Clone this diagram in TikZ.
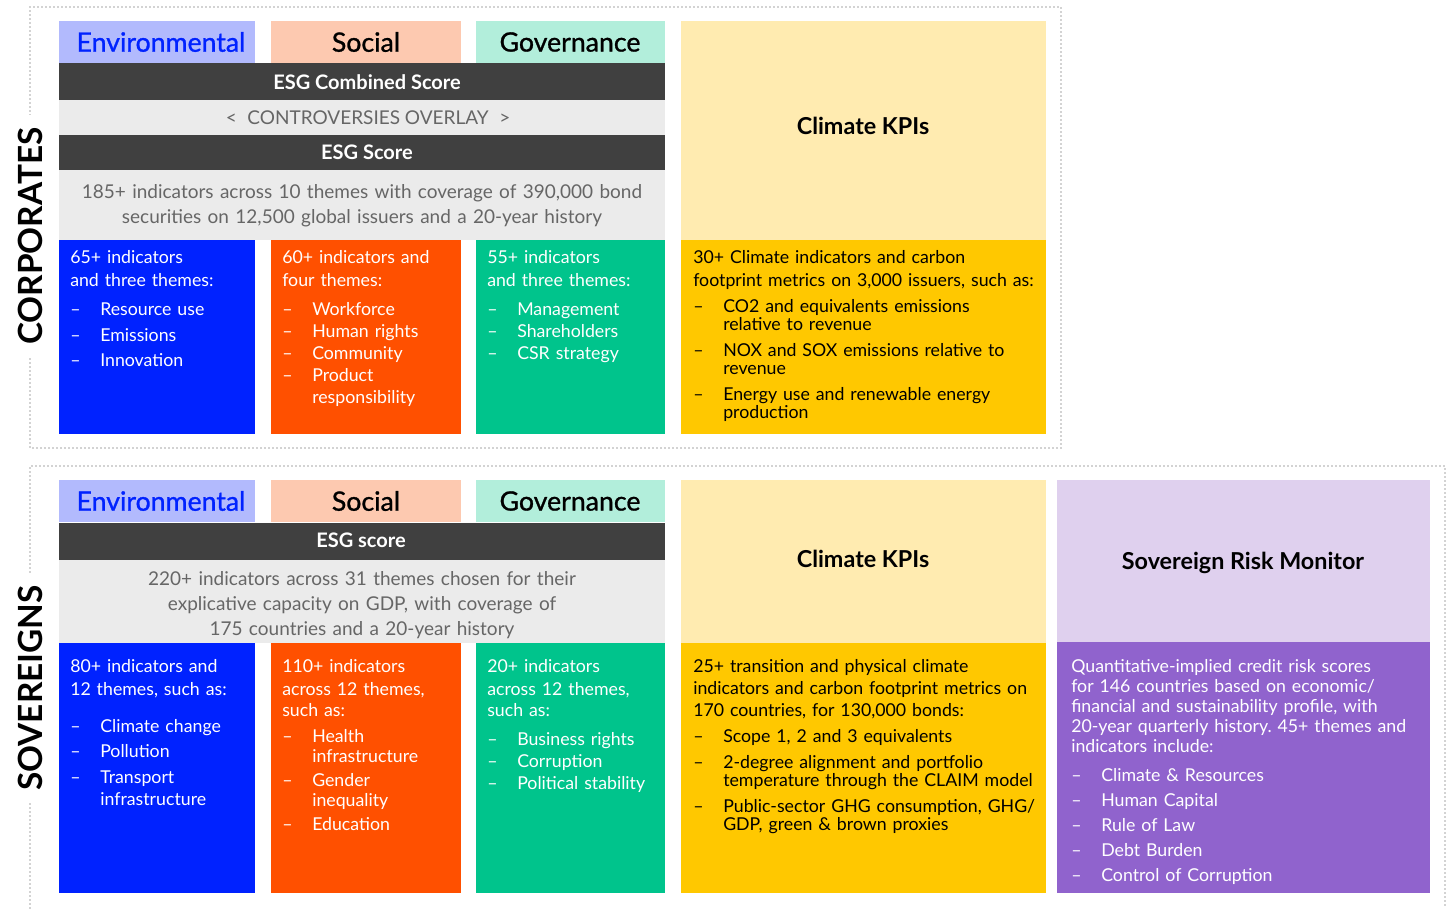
\documentclass[tikz,border=0pt]{standalone}
\usepackage{fontspec}
\setmainfont{Lato}
\newfontfamily\medfont[FakeBold=1]{Lato}
\usetikzlibrary{positioning}
\definecolor{envlight}{RGB}{178,186,253}
\definecolor{soclight}{RGB}{253,201,176}
\definecolor{govlight}{RGB}{178,238,219}
\definecolor{envblue}{RGB}{0,34,255}
\definecolor{socorange}{RGB}{255,80,0}
\definecolor{govgreen}{RGB}{0,196,140}
\definecolor{darkbar}{RGB}{64,64,64}
\definecolor{paleband}{RGB}{235,235,235}
\definecolor{greytext}{RGB}{102,102,102}
\definecolor{kpilight}{RGB}{255,235,176}
\definecolor{kpidark}{RGB}{255,200,0}
\definecolor{srmlight}{RGB}{223,208,238}
\definecolor{srmdark}{RGB}{144,99,205}
\definecolor{dotgrey}{RGB}{165,165,165}
\tikzstyle{hd}=[font=\medfont\fontsize{20}{22}\selectfont, inner sep=0pt]
\tikzstyle{bar}=[font=\bfseries\fontsize{15}{16}\selectfont, text=white, inner sep=0pt]
\tikzstyle{desc}=[font=\fontsize{14.25}{18}\selectfont, text=greytext, anchor=base, text width=470pt, align=center, inner sep=0pt]
\tikzstyle{body}=[font=\fontsize{13.3}{16.5}\selectfont, text=white, anchor=base west, text width=320pt, align=left, inner sep=0pt]
\tikzstyle{kpi}=[font=\bfseries\fontsize{17.5}{20}\selectfont, inner sep=0pt]
\tikzstyle{side}=[font=\bfseries\fontsize{25}{28}\selectfont, rotate=90, fill=white, inner xsep=9pt, inner ysep=3pt]
\tikzstyle{frame}=[draw=dotgrey, line width=1.4pt, line cap=round, dash pattern=on 0pt off 3pt]
\newcommand{\dsh}{\makebox[22.5pt][l]{--}}
\newcommand{\ind}{\hspace*{22.5pt}}
\frenchspacing

\begin{document}
\begin{tikzpicture}[x=0.75pt, y=-0.75pt]
  \useasboundingbox (0,0) rectangle (1453,908);
  %
  \draw[frame] (30,7) rectangle (1061,448);
  \draw[frame] (30,908) -- (30,466) -- (1445,466) -- (1445,908);
  \node[side] (corp) at (30,236) {CORPORATES};
  \node[side] (sov) at (30,688) {SOVEREIGNS};
  %
  % corporates
  \foreach \y in {21,480} {
    \fill[envlight] (59,\y) rectangle (255,\y+42);
    \fill[soclight] (271,\y) rectangle (461,\y+42);
    \fill[govlight] (476,\y) rectangle (665,\y+42);
  }
  \node[hd, text=envblue] (cenv) at (161,42) {Environmental};
  \node[hd] (csoc) at (366,42) {Social};
  \node[hd] (cgov) at (570,42) {Governance};
  \fill[darkbar] (59,63) rectangle (665,100);
  \fill[paleband] (59,100) rectangle (665,135);
  \fill[darkbar] (59,135) rectangle (665,170);
  \fill[paleband] (59,170) rectangle (665,240);
  \node[bar] (ccomb) at (367,82) {ESG Combined Score};
  \node[hd, font=\fontsize{14.25}{16}\selectfont, text=greytext] (cover) at (368,118) {<\;\;CONTROVERSIES OVERLAY\;\;>};
  \node[bar] (cscore) at (367,152) {ESG Score};
  \node[desc] (cdesc) at (362,198) {185+ indicators across 10 themes with coverage of 390,000 bond\\[0.75pt]securities on 12,500 global issuers and a 20-year history};
  \fill[envblue] (59,240) rectangle (255,434);
  \fill[socorange] (271,240) rectangle (461,434);
  \fill[govgreen] (476,240) rectangle (665,434);
  \fill[kpilight] (681,21) rectangle (1046,240);
  \fill[kpidark] (681,240) rectangle (1046,434);
  \node[kpi] (ckpi) at (863,126) {Climate KPIs};
  \node[body] (cenvt) at (70,263) {65+ indicators\\[0.75pt]and three themes:\\[5.25pt]\dsh Resource use\\[3pt]\dsh Emissions\\[2.25pt]\dsh Innovation};
  \node[body] (csoct) at (282,263) {60+ indicators and\\[0.75pt]four themes:\\[5.25pt]\dsh Workforce\\\dsh Human rights\\\dsh Community\\\dsh Product\\\ind responsibility};
  \node[body] (cgovt) at (487,263) {55+ indicators\\[0.75pt]and three themes:\\[5.25pt]\dsh Management\\\dsh Shareholders\\\dsh CSR strategy};
  \node[body, text=black, font=\fontsize{13.3}{13.5}\selectfont] (ckpit) at (693,263) {30+ Climate indicators and carbon\\[3.75pt]footprint metrics on 3,000 issuers, such as:\\[6pt]\dsh CO2 and equivalents emissions\\\ind relative to revenue\\[6pt]\dsh NOX and SOX emissions relative to\\\ind revenue\\[6pt]\dsh Energy use and renewable energy\\\ind production};
  %
  % sovereigns
  \node[hd, text=envblue] (senv) at (161,501) {Environmental};
  \node[hd] (ssoc) at (366,501) {Social};
  \node[hd] (sgov) at (570,501) {Governance};
  \fill[darkbar] (59,523) rectangle (665,560);
  \fill[paleband] (59,560) rectangle (665,643);
  \node[bar] (sscore) at (361,540) {ESG score};
  \node[desc] (sdesc) at (362,585) {220+ indicators across 31 themes chosen for their\\[0.75pt]explicative capacity on GDP, with coverage of\\[0.75pt]175 countries and a 20-year history};
  \fill[envblue] (59,643) rectangle (255,893);
  \fill[socorange] (271,643) rectangle (461,893);
  \fill[govgreen] (476,643) rectangle (665,893);
  \fill[kpilight] (681,480) rectangle (1046,643);
  \fill[kpidark] (681,643) rectangle (1046,893);
  \fill[srmlight] (1057,480) rectangle (1430,642);
  \fill[srmdark] (1057,642) rectangle (1430,893);
  \node[kpi] (skpi) at (863,559) {Climate KPIs};
  \node[kpi] (srm) at (1243,563) {Sovereign Risk Monitor};
  \node[body] (senvt) at (70,672) {80+ indicators and\\[0.75pt]12 themes, such as:\\[11.25pt]\dsh Climate change\\[2.25pt]\dsh Pollution\\[3pt]\dsh Transport\\\ind infrastructure};
  \node[body] (ssoct) at (282,672) {110+ indicators\\[0.75pt]across 12 themes,\\[-0.75pt]such as:\\[3pt]\dsh Health\\[-1.5pt]\ind infrastructure\\[1.5pt]\dsh Gender\\[-1.5pt]\ind inequality\\[1.5pt]\dsh Education};
  \node[body] (sgovt) at (487,672) {20+ indicators\\[0.75pt]across 12 themes,\\[-0.75pt]such as:\\[5.25pt]\dsh Business rights\\\dsh Corruption\\\dsh Political stability};
  \node[body, text=black] (skpit) at (693,672) {25+ transition and physical climate\\indicators and carbon footprint metrics on\\170 countries, for 130,000 bonds:\\[3pt]\dsh Scope 1, 2 and 3 equivalents\\[3pt]\dsh 2-degree alignment and portfolio\\[-3pt]\ind temperature through the CLAIM model\\[3pt]\dsh Public-sector GHG consumption, GHG/\\[-3pt]\ind GDP, green \& brown proxies};
  \node[body, font=\fontsize{13.3}{15}\selectfont] (srmt) at (1071,672) {Quantitative-implied credit risk scores\\for 146 countries based on economic/\\financial and sustainability profile, with\\20-year quarterly history. 45+ themes and\\indicators include:\\[6.75pt]\dsh Climate \& Resources\\[3.75pt]\dsh Human Capital\\[3.75pt]\dsh Rule of Law\\[3.75pt]\dsh Debt Burden\\[3.75pt]\dsh Control of Corruption};
\end{tikzpicture}
\end{document}
